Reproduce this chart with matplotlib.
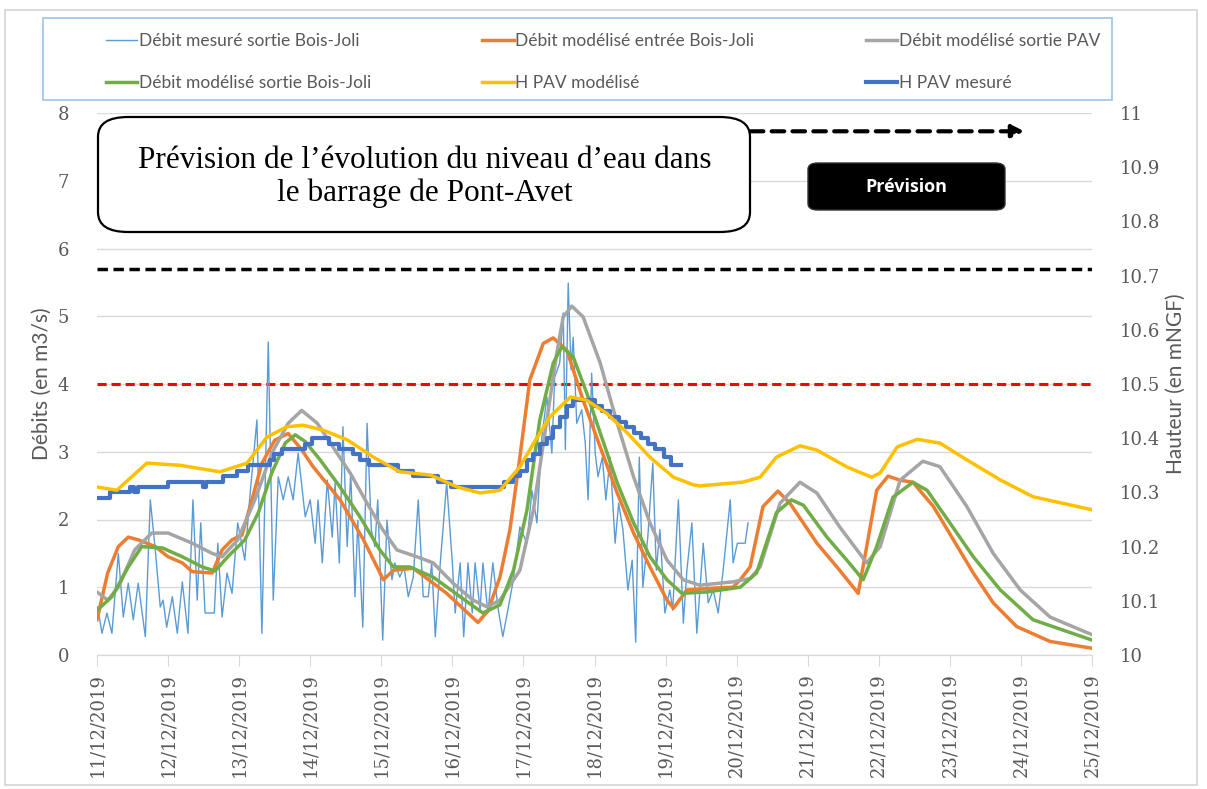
import numpy as np
import pandas as pd
import matplotlib
matplotlib.use("Agg")
import matplotlib.pyplot as plt
from matplotlib.patches import FancyBboxPatch, Rectangle

# jours depuis le 11/12/2019
dates = pd.date_range("2019-12-11", periods=15).strftime("%d/%m/%Y").tolist()

# Débit mesuré sortie Bois-Joli (m3/s)
mes_x = [0.01, 0.07, 0.14, 0.21, 0.30, 0.37, 0.44, 0.51, 0.58, 0.68, 0.75, 0.82, 0.89, 0.93,
         0.98, 1.06, 1.13, 1.20, 1.28, 1.35, 1.41, 1.46, 1.52, 1.59, 1.65, 1.70, 1.76, 1.83,
         1.90, 1.98, 2.08, 2.15, 2.25, 2.32, 2.41, 2.48, 2.55, 2.62, 2.69, 2.76, 2.83, 2.93,
         3.00, 3.07, 3.11, 3.17, 3.24, 3.31, 3.35, 3.41, 3.46, 3.52, 3.57, 3.63, 3.67, 3.74,
         3.80, 3.86, 3.91, 3.95, 4.02, 4.08, 4.15, 4.19, 4.26, 4.32, 4.38, 4.45, 4.52, 4.59,
         4.66, 4.71, 4.76, 4.83, 4.92, 5.00, 5.04, 5.11, 5.16, 5.22, 5.28, 5.32, 5.39, 5.43,
         5.50, 5.57, 5.64, 5.71, 5.78, 5.85, 5.95, 6.05, 6.12, 6.19, 6.26, 6.33, 6.40, 6.44,
         6.51, 6.56, 6.59, 6.63, 6.67, 6.70, 6.75, 6.82, 6.87, 6.91, 6.96, 7.01, 7.05, 7.11,
         7.16, 7.22, 7.29, 7.34, 7.40, 7.47, 7.53, 7.58, 7.63, 7.68, 7.75, 7.82, 7.87, 7.92,
         7.99, 8.06, 8.10, 8.18, 8.25, 8.30, 8.37, 8.44, 8.53, 8.60, 8.67, 8.74, 8.81, 8.91,
         8.95, 9.01, 9.12, 9.16]
mes_y = [0.71, 0.32, 0.62, 0.32, 1.50, 0.56, 1.06, 0.52, 1.06, 0.27, 2.29, 1.55, 0.71, 0.81,
         0.41, 0.86, 0.32, 1.08, 0.32, 2.29, 0.81, 1.95, 0.62, 0.62, 0.62, 1.65, 0.56, 1.21,
         0.91, 1.95, 1.40, 2.33, 3.47, 0.32, 4.62, 0.81, 2.63, 2.29, 2.63, 2.29, 2.98, 2.04,
         2.29, 1.65, 2.29, 1.36, 2.58, 1.74, 2.54, 1.36, 3.37, 1.60, 2.69, 0.86, 1.99, 0.41,
         3.42, 1.85, 1.60, 2.29, 0.22, 1.99, 1.11, 1.36, 1.15, 1.30, 0.86, 1.15, 2.29, 0.86,
         0.86, 1.36, 0.27, 1.36, 2.54, 1.36, 0.62, 1.36, 0.27, 1.36, 0.62, 1.36, 0.66, 1.36,
         0.62, 1.36, 0.71, 0.27, 0.66, 1.06, 1.89, 1.65, 2.43, 1.95, 3.22, 3.81, 2.98, 4.10,
         4.31, 5.05, 3.03, 5.49, 4.21, 4.69, 3.42, 3.62, 3.13, 2.29, 4.16, 2.98, 2.63, 2.92,
         2.29, 2.92, 1.65, 2.24, 1.85, 0.96, 1.40, 0.19, 2.92, 1.00, 1.74, 2.83, 1.25, 1.85,
         0.62, 0.96, 0.66, 2.29, 0.47, 1.25, 1.95, 0.32, 1.65, 0.77, 0.96, 0.62, 1.25, 2.29,
         1.36, 1.65, 1.65, 1.95]

# Débit modélisé entrée Bois-Joli
ent_x = [0.0, 0.15, 0.30, 0.44, 0.58, 0.82, 1.00, 1.20, 1.34, 1.62, 1.76, 1.90, 2.04, 2.18,
         2.32, 2.50, 2.69, 2.88, 3.04, 3.42, 3.75, 4.03, 4.17, 4.45, 4.92, 5.36, 5.50, 5.67,
         5.81, 5.95, 6.09, 6.28, 6.42, 6.61, 6.84, 7.08, 7.32, 7.55, 7.78, 8.02, 8.11, 8.30,
         8.72, 8.95, 9.05, 9.19, 9.37, 9.58, 9.75, 10.13, 10.45, 10.71, 10.83, 10.97, 11.13,
         11.30, 11.48, 11.77, 12.05, 12.33, 12.61, 12.94, 13.41, 14.0]
ent_y = [0.52, 1.21, 1.60, 1.74, 1.70, 1.60, 1.45, 1.36, 1.23, 1.21, 1.55, 1.70, 1.77, 2.29,
         2.83, 3.17, 3.27, 3.03, 2.78, 2.29, 1.70, 1.11, 1.25, 1.28, 0.91, 0.48, 0.65, 1.15,
         1.85, 2.92, 4.06, 4.60, 4.68, 4.50, 3.76, 3.07, 2.39, 1.80, 1.30, 0.81, 0.69, 0.96,
         0.99, 1.00, 1.11, 1.30, 2.19, 2.42, 2.24, 1.65, 1.25, 0.91, 1.60, 2.43, 2.64,
         2.58, 2.55, 2.19, 1.70, 1.21, 0.77, 0.42, 0.20, 0.10]

# Débit modélisé sortie Bois-Joli
sbj_x = [0.0, 0.21, 0.44, 0.63, 0.92, 1.20, 1.48, 1.66, 1.84, 2.08, 2.27, 2.46, 2.65, 2.79,
         2.93, 3.14, 3.42, 3.70, 3.98, 4.17, 4.40, 4.73, 5.11, 5.43, 5.67, 5.86, 6.05, 6.23,
         6.42, 6.54, 6.70, 6.89, 7.08, 7.32, 7.55, 7.78, 8.02, 8.23, 8.58, 9.05, 9.28, 9.56,
         9.77, 9.94, 10.27, 10.55, 10.78, 10.97, 11.20, 11.48, 11.68, 12.00, 12.33, 12.71,
         13.17, 14.0]
sbj_y = [0.66, 0.86, 1.30, 1.60, 1.58, 1.45, 1.30, 1.24, 1.45, 1.70, 2.10, 2.69, 3.13, 3.25,
         3.15, 2.88, 2.48, 2.04, 1.55, 1.30, 1.30, 1.15, 0.86, 0.62, 0.74, 1.25, 2.14, 3.47,
         4.31, 4.55, 4.40, 3.87, 3.28, 2.54, 1.95, 1.45, 1.11, 0.91, 0.93, 1.00, 1.21, 2.10,
         2.29, 2.21, 1.74, 1.40, 1.11, 1.60, 2.33, 2.55, 2.43, 1.95, 1.45, 0.96,
         0.52, 0.22]

# Débit modélisé sortie PAV
pav_x = [0.0, 0.15, 0.30, 0.53, 0.77, 1.00, 1.34, 1.62, 1.76, 1.98, 2.22, 2.46, 2.69, 2.88,
         3.10, 3.32, 3.56, 3.80, 4.02, 4.22, 4.50, 4.73, 5.01, 5.29, 5.49, 5.67, 5.95, 6.14,
         6.33, 6.47, 6.56, 6.68, 6.84, 7.08, 7.32, 7.55, 7.78, 8.02, 8.25, 8.48, 8.95, 9.19,
         9.33, 9.61, 9.89, 10.13, 10.45, 10.83, 11.02, 11.30, 11.62, 11.86, 12.24, 12.61,
         12.99, 13.41, 14.0]
pav_y = [0.93, 0.81, 1.00, 1.55, 1.80, 1.80, 1.65, 1.50, 1.45, 1.70, 2.29, 2.98, 3.42, 3.61,
         3.42, 3.07, 2.69, 2.24, 1.85, 1.55, 1.45, 1.36, 1.06, 0.81, 0.71, 0.81, 1.25, 2.14,
         3.47, 4.46, 4.99, 5.15, 4.99, 4.31, 3.42, 2.63, 1.95, 1.40, 1.11, 1.03, 1.08, 1.13,
         1.30, 2.24, 2.55, 2.39, 1.89, 1.36, 1.60, 2.58, 2.86, 2.78, 2.19, 1.50,
         0.96, 0.56, 0.30]

# H PAV modélisé (mNGF)
hmod_x = [0.0, 0.28, 0.70, 1.17, 1.73, 2.11, 2.39, 2.67, 2.90, 3.18, 3.52, 3.89, 4.26, 4.69,
          5.07, 5.39, 5.67, 5.95, 6.14, 6.37, 6.66, 6.89, 7.17, 7.46, 7.78, 8.11, 8.39, 8.48,
          9.09, 9.33, 9.56, 9.89, 10.13, 10.55, 10.90, 11.02, 11.26, 11.54, 11.86, 12.24,
          12.71, 13.17, 14.0]
hmod_y = [10.31, 10.304, 10.354, 10.35, 10.338, 10.354, 10.402, 10.421, 10.424, 10.415,
          10.397, 10.365, 10.338, 10.332, 10.31, 10.299, 10.304, 10.347, 10.39, 10.439,
          10.476, 10.47, 10.446, 10.41, 10.365, 10.328, 10.314, 10.312, 10.319, 10.328,
          10.365, 10.386, 10.378, 10.347, 10.328, 10.336, 10.384, 10.398, 10.391, 10.36,
          10.323, 10.292, 10.268]

# H PAV mesuré (mNGF), par paliers
hmes_x = [0.00, 0.18, 0.46, 0.52, 0.58, 1.00, 1.49, 1.54, 1.77, 1.97, 2.12, 2.43, 2.49, 2.60,
          2.92, 3.03, 3.26, 3.40, 3.60, 3.70, 3.83, 4.23, 4.45, 4.80, 4.98, 5.72, 5.85, 5.95,
          6.05, 6.14, 6.23, 6.33, 6.42, 6.51, 6.61, 6.70, 7.00, 7.10, 7.22, 7.35, 7.45, 7.55,
          7.65, 7.75, 7.85, 7.98, 8.07, 8.22]
hmes_y = [10.29, 10.30, 10.31, 10.30, 10.31, 10.32, 10.31, 10.32, 10.33, 10.34, 10.35,
          10.36, 10.37, 10.38, 10.39, 10.40, 10.39, 10.38, 10.37, 10.36, 10.35, 10.34,
          10.33, 10.32, 10.31, 10.32, 10.33, 10.34, 10.36, 10.37, 10.39, 10.40, 10.42,
          10.44, 10.46, 10.47, 10.46, 10.45, 10.44, 10.43, 10.42, 10.41, 10.40, 10.39,
          10.38, 10.365, 10.35, 10.35]

seuil_noir = 5.7
seuil_rouge = 4.0

W, H = 1207, 789
fig = plt.figure(figsize=(W / 100, H / 100), dpi=100)
fig.patches.append(Rectangle((5 / W, 4 / H), 1192 / W, 775 / H, transform=fig.transFigure,
                             fill=False, edgecolor="#d4d4d4", lw=1.2))

ax = fig.add_axes([97 / W, 1 - 655 / H, 995 / W, 542 / H])
ax2 = ax.twinx()

tick_font = {"family": "DejaVu Serif", "size": 13, "color": "#595959"}
grey = "#595959"

ax.set_xlim(0, 14)
ax.set_ylim(0, 8)
ax2.set_ylim(10, 11)
ax.yaxis.grid(True, color="#d9d9d9", lw=1)
ax.set_axisbelow(True)

for a in (ax, ax2):
    for s in ("top", "right", "left"):
        a.spines[s].set_visible(False)
    a.spines["bottom"].set_color("#d9d9d9")

ax.set_xticks(range(15))
ax.set_xticklabels(dates, rotation=90, fontdict=tick_font)
ax.tick_params(axis="x", length=8, color="#d9d9d9", pad=5)
ax.set_yticks(range(9))
ax.set_yticklabels([str(v) for v in range(9)], fontdict=tick_font)
ax.tick_params(axis="y", length=0, pad=20)
hticks = np.round(np.arange(10, 11.01, 0.1), 1)
ax2.set_yticks(hticks)
ax2.set_yticklabels([f"{v:g}" for v in hticks], fontdict=tick_font)
ax2.tick_params(axis="y", length=0, pad=20)

ax.set_ylabel("Débits (en m3/s)", fontsize=15, color=grey, family="Lato", labelpad=4)
ax2.set_ylabel("Hauteur (en mNGF)", fontsize=15, color=grey, family="Lato", labelpad=4)

# seuils
ax.plot([0, 14], [seuil_noir, seuil_noir], color="black", lw=2.5, ls=(0, (3, 1.6)))
ax.plot([0, 14], [seuil_rouge, seuil_rouge], color="#ff0000", lw=2.2, ls=(0, (3, 1.6)))

l1, = ax.plot(mes_x, mes_y, color="#5b9bd5", lw=1)
l2, = ax.plot(ent_x, ent_y, color="#ed7d31", lw=2.5)
l3, = ax.plot(pav_x, pav_y, color="#a5a5a5", lw=2.5)
l4, = ax.plot(sbj_x, sbj_y, color="#70ad47", lw=2.5)
l6, = ax2.plot(hmes_x, hmes_y, color="#4472c4", lw=3, drawstyle="steps-post")
l5, = ax2.plot(hmod_x, hmod_y, color="#ffc000", lw=2.5)

# flèche de prévision
ax.annotate("", xy=(13.05, 7.73), xytext=(9.2, 7.73),
            arrowprops=dict(arrowstyle="-|>", color="black", lw=3, ls=(0, (3, 2)),
                            mutation_scale=18, shrinkA=0, shrinkB=0))

# cadre du titre
fig.patches.append(FancyBboxPatch((98 / W, 1 - 232 / H), 652 / W, 115 / H,
                                  boxstyle="round,pad=0,rounding_size=0.025",
                                  transform=fig.transFigure, facecolor="white",
                                  edgecolor="black", lw=1.6, zorder=5))
fig.text(425 / W, 1 - 177 / H, "Prévision de l’évolution du niveau d’eau dans\nle barrage de Pont-Avet",
         ha="center", va="center", family="Liberation Serif", fontsize=22.5, linespacing=1.18,
         zorder=6)

fig.patches.append(FancyBboxPatch((808 / W, 1 - 210 / H), 197 / W, 47 / H,
                                  boxstyle="round,pad=0,rounding_size=0.008",
                                  transform=fig.transFigure, facecolor="black",
                                  edgecolor="#333333", lw=1, zorder=5))
fig.text(906 / W, 1 - 187 / H, "Prévision", ha="center", va="center", color="white",
         fontsize=13, fontweight="bold", family="Open Sans", zorder=6)

# légende
fig.patches.append(Rectangle((43 / W, 1 - 100 / H), 1069 / W, 82 / H, transform=fig.transFigure,
                             fill=False, edgecolor="#9dc3e6", lw=1.2))
labels = ["Débit mesuré sortie Bois-Joli", "Débit modélisé sortie Bois-Joli",
          "Débit modélisé entrée Bois-Joli", "H PAV modélisé",
          "Débit modélisé sortie PAV", "H PAV mesuré"]
fig.legend([l1, l4, l2, l5, l3, l6], labels, loc="center",
           bbox_to_anchor=(92 / W, 1 - 103 / H, 1022 / W, 82 / H), mode="expand", ncol=3,
           frameon=False, prop={"family": "Lato", "size": 12.5}, labelcolor=grey,
           handlelength=1.8, handletextpad=0.1, labelspacing=1.45, borderpad=0.3)

fig.savefig("out.png", dpi=100)
